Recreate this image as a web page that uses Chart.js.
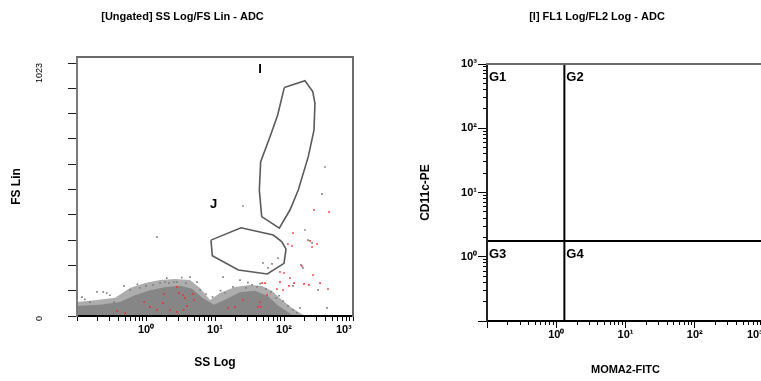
<!DOCTYPE html>
<html>
<head>
<meta charset="utf-8">
<script src="https://cdn.jsdelivr.net/npm/chart.js@4.4.1/dist/chart.umd.min.js"></script>
<style>
  html, body { margin: 0; padding: 0; background: #fff; overflow: hidden; width: 761px; height: 381px; }
  canvas { position: absolute; top: 0; }
  #scatterPlot { left: 0; }
  #quadPlot { left: 400px; }
</style>
</head>
<body>
<canvas id="scatterPlot" width="365" height="381"></canvas>
<canvas id="quadPlot" width="394" height="381"></canvas>
<script>
// log axis decades and their labels
const decades = [0.1, 1, 10, 100, 1000];
const decadeValues = [1, 10, 100, 1000];
const decadeLabels = ['10⁰', '10¹', '10²', '10³'];

// FS Lin axis
const fsTicks = [0, 100, 200, 300, 400, 500, 600, 700, 800, 900, 1000];
const fsLabelValues = [0, 1000];
const fsLabelTexts = ['0', '1023'];

// dense part of the SS/FS cloud (top edge, [SS, FS])
const cloudOuter = [[0.1, 55], [0.182, 62], [0.356, 72], [0.586, 111], [0.968, 130], [1.6, 142], [2.63, 146],
  [4.34, 142], [6.06, 111], [8.47, 63], [11.8, 91], [19.5, 115], [32.1, 123], [48, 119], [67, 99],
  [93.5, 63], [131, 32], [171, 12], [201, 0]];
const cloudCore = [[0.1, 40], [0.215, 44], [0.42, 55], [0.69, 82], [1.14, 102], [1.88, 114], [3.11, 120],
  [4.64, 108], [6.7, 70], [9.7, 44], [15.4, 70], [23, 94], [38, 100], [58.6, 78], [81.9, 42], [114, 16], [135, 0]];

// scattered events
const grayPts = [[25.5, 435], [393, 589], [356, 482], [201, 340], [223, 300], [255, 289], [176, 202], [188, 190],
  [135, 119], [171, 32], [420, 32], [311, 103], [49.6, 210], [67, 206], [58.6, 190], [81.8, 229], [13.1, 154],
  [23, 142], [18.2, 115], [40.6, 115], [0.24, 95], [0.27, 91], [0.154, 55], [0.118, 75], [1.26, 123], [1.6, 130],
  [2.81, 134], [5.48, 134], [4.34, 154], [2.15, 130], [2.55, 134], [0.195, 95], [0.48, 119], [0.344, 55],
  [1.44, 312], [0.59, 103], [0.82, 111], [1.0, 119], [1.88, 134], [3.8, 130], [6.06, 103], [7.4, 87], [14, 91],
  [28.1, 111], [34.4, 123], [54.8, 107], [64.8, 95], [76.6, 71], [96.8, 59], [114, 40], [135, 24], [154, 12],
  [0.13, 66], [0.3, 82], [0.75, 125], [2.0, 150], [3.3, 152], [9.2, 75], [12, 100], [30, 132], [45, 128], [85, 80]];
const redPts = [[272, 419], [449, 411], [135, 328], [114, 285], [131, 277], [255, 273], [301, 285], [238, 297],
  [182, 198], [100, 170], [87.5, 174], [122, 150], [87.5, 134], [140, 130], [195, 127], [230, 123], [333, 130],
  [434, 107], [263, 162], [79, 107], [97, 103], [48, 130], [118, 119], [57, 83], [45, 55], [46, 36], [25.5, 63],
  [19.5, 36], [15.4, 32], [1.82, 87], [1.76, 51], [2.81, 115], [3.0, 91], [3.44, 83], [3.67, 71], [3.93, 40],
  [3.5, 24], [4.8, 87], [4.96, 63], [1.44, 24], [1.14, 36], [2.23, 24], [2.81, 16], [0.5, 12], [0.38, 20],
  [0.94, 55], [53, 130], [42, 36]];

// gates
const gateI = [[101, 903], [201, 930], [261, 887], [281, 841], [272, 735], [225, 630], [161, 498], [122, 419],
  [85.5, 347], [47.5, 393], [43.9, 498], [45.9, 610], [62.7, 709], [81, 795], [101, 903]];
const gateJ = [[8.75, 300], [23.8, 349], [70, 320], [92.6, 294], [107, 264], [100, 208], [57.3, 166],
  [21.8, 182], [9.14, 238], [8.75, 300]];
const gateNames = ['I', 'J'];
const gateNameX = [44.9, 9.57];
const gateNameY = [975, 440];

// FL1/FL2 quadrant
const quadX = 1.31;
const quadY = 1.76;
const quadNames = ['G1', 'G2', 'G3', 'G4'];
const quadNameX = [0.1, quadX, 0.1, quadX];
const quadNameY = [1000, 1000, quadY, quadY];

Chart.defaults.font.family = '"Liberation Sans", Arial, sans-serif';
Chart.defaults.color = '#000';

const toPts = arr => arr.map(([x, y]) => ({ x, y }));

const logTicks = [];
decades.slice(0, -1).forEach(d => {
  for (let m = 1; m < 10; m++) logTicks.push(+(m * d).toPrecision(2));
});
logTicks.push(1000);

const lastPad = '\u00a0'.repeat(6);
function decadeLabel(v) {
  const i = decadeValues.indexOf(v);
  if (i < 0) return '';
  return decadeLabels[i] + (v === 1000 ? lastPad : '');
}

function textMarks(names, xs, ys, dx, dy) {
  return {
    id: 'textMarks',
    afterDatasetsDraw(chart) {
      const { ctx, scales } = chart;
      ctx.save();
      ctx.font = 'bold 13px "Liberation Sans", Arial, sans-serif';
      ctx.fillStyle = '#000';
      ctx.textAlign = dx ? 'left' : 'center';
      ctx.textBaseline = 'middle';
      names.forEach((t, i) => {
        ctx.fillText(t, scales.x.getPixelForValue(xs[i]) + dx, scales.y.getPixelForValue(ys[i]) + dy);
      });
      ctx.restore();
    }
  };
}

const tickFont = { size: 11, weight: 'bold' };
const noLine = 'rgba(0,0,0,0)';
const fixHeight = h => s => { s.height = h; s.paddingLeft = 0; s.paddingRight = 0; };
const fixWidth = w => s => { s.width = w; s.paddingTop = 0; s.paddingBottom = 0; };

// frame pieces as empty axes
const frameTop = (type, min, max, color) => ({
  type, min, max, position: 'top', afterFit: fixHeight(0),
  grid: { display: false }, ticks: { display: false },
  border: { display: true, color, width: 2, z: 1 }
});
const frameRight = (width, color) => ({
  type: 'linear', min: 0, max: 1, position: 'right', afterFit: fixWidth(width),
  grid: { display: false }, ticks: { display: false },
  border: { display: !!color, color: color || noLine, width: 2, z: 1 }
});

new Chart(document.getElementById('scatterPlot'), {
  type: 'scatter',
  data: {
    datasets: [
      { type: 'line', data: toPts(gateI), borderColor: '#5a5a5a', borderWidth: 1.6, pointRadius: 0, fill: false, tension: 0 },
      { type: 'line', data: toPts(gateJ), borderColor: '#5a5a5a', borderWidth: 1.6, pointRadius: 0, fill: false, tension: 0 },
      { data: toPts(redPts), backgroundColor: '#ff2020', pointStyle: 'rect', pointRadius: 1.1, borderWidth: 0 },
      { data: toPts(grayPts), backgroundColor: '#808080', pointStyle: 'rect', pointRadius: 1.2, borderWidth: 0 },
      { type: 'line', data: toPts(cloudCore), backgroundColor: '#868686', borderColor: noLine, borderWidth: 0, pointRadius: 0, fill: 'origin', tension: 0 },
      { type: 'line', data: toPts(cloudOuter), backgroundColor: '#adadad', borderColor: noLine, borderWidth: 0, pointRadius: 0, fill: 'origin', tension: 0 }
    ]
  },
  options: {
    responsive: false,
    animation: false,
    events: [],
    plugins: {
      legend: { display: false },
      tooltip: { enabled: false },
      title: {
        display: true, text: '[Ungated] SS Log/FS Lin - ADC',
        font: { size: 11, weight: 'bold' }, color: '#000', padding: { top: 10, bottom: 33.8 }
      }
    },
    scales: {
      x: {
        type: 'logarithmic', min: 0.1, max: 1000, position: 'bottom',
        afterBuildTicks: s => { s.ticks = logTicks.map(v => ({ value: v })); },
        afterFit: fixHeight(65),
        grid: { drawOnChartArea: false, drawTicks: true, tickLength: 5, color: '#000' },
        border: { display: true, color: '#000', width: 2, z: 1 },
        ticks: { autoSkip: false, minRotation: 0, maxRotation: 0, padding: 2, font: tickFont, color: '#000', callback: decadeLabel },
        title: { display: true, text: 'SS Log', font: { size: 12, weight: 'bold' }, color: '#000', padding: { top: 0, bottom: 10.8 } }
      },
      y: {
        type: 'linear', min: 0, max: 1024, position: 'left',
        afterBuildTicks: s => { s.ticks = fsTicks.map(v => ({ value: v })); },
        afterFit: fixWidth(77),
        grid: { drawOnChartArea: false, drawTicks: true, tickLength: 9, color: '#222' },
        border: { display: true, color: '#7a7a7a', width: 2, z: 1 },
        ticks: {
          autoSkip: false, minRotation: 90, maxRotation: 90, padding: 28, font: { size: 9 }, color: '#000',
          callback: v => { const i = fsLabelValues.indexOf(v); return i < 0 ? '' : fsLabelTexts[i]; }
        },
        title: { display: true, text: 'FS Lin', font: { size: 12, weight: 'bold' }, color: '#000', padding: { top: 9.8, bottom: 0 } }
      },
      xT: frameTop('logarithmic', 0.1, 1000, '#6a6a6a'),
      yR: frameRight(12, '#6a6a6a')
    }
  },
  plugins: [textMarks(gateNames, gateNameX, gateNameY, 0, 0)]
});

new Chart(document.getElementById('quadPlot'), {
  type: 'scatter',
  data: {
    datasets: [
      { type: 'line', data: [{ x: quadX, y: 0.1 }, { x: quadX, y: 1000 }], borderColor: '#000', borderWidth: 2, pointRadius: 0, fill: false },
      { type: 'line', data: [{ x: 0.1, y: quadY }, { x: 1000, y: quadY }], borderColor: '#000', borderWidth: 2, pointRadius: 0, fill: false }
    ]
  },
  options: {
    responsive: false,
    animation: false,
    events: [],
    plugins: {
      legend: { display: false },
      tooltip: { enabled: false },
      title: {
        display: true, text: '[I] FL1 Log/FL2 Log - ADC',
        font: { size: 11, weight: 'bold' }, color: '#000', padding: { top: 10, bottom: 40.8 }
      }
    },
    scales: {
      x: {
        type: 'logarithmic', min: 0.1, max: 1000, position: 'bottom', weight: 1,
        afterBuildTicks: s => { s.ticks = logTicks.map(v => ({ value: v })); },
        afterFit: fixHeight(60),
        grid: { drawOnChartArea: false, drawTicks: true, tickLength: 4, color: '#000' },
        border: { display: true, color: '#000', width: 2, z: 1 },
        ticks: { autoSkip: false, minRotation: 0, maxRotation: 0, padding: 3, font: tickFont, color: '#000', callback: decadeLabel },
        title: { display: true, text: 'MOMA2-FITC', font: { size: 11, weight: 'bold' }, color: '#000', padding: { top: 0, bottom: 4.4 } }
      },
      xM: {
        type: 'logarithmic', min: 0.1, max: 1000, position: 'bottom', weight: 0,
        afterBuildTicks: s => { s.ticks = decades.map(v => ({ value: v })); },
        afterFit: fixHeight(0),
        grid: { drawOnChartArea: false, drawTicks: true, tickLength: 7, color: '#000' },
        border: { display: false }, ticks: { display: false }
      },
      y: {
        type: 'logarithmic', min: 0.1, max: 1000, position: 'left', weight: 1,
        afterBuildTicks: s => { s.ticks = logTicks.map(v => ({ value: v })); },
        afterFit: fixWidth(87),
        grid: { drawOnChartArea: false, drawTicks: true, tickLength: 4, color: '#000' },
        border: { display: true, color: '#222', width: 2, z: 1 },
        ticks: {
          autoSkip: false, padding: 6, font: tickFont, color: '#000',
          callback: v => { const i = decadeValues.indexOf(v); return i < 0 ? '' : decadeLabels[i]; }
        },
        title: { display: true, text: 'CD11c-PE', font: { size: 12, weight: 'bold' }, color: '#000', padding: { top: 18.8, bottom: 0 } }
      },
      yM: {
        type: 'logarithmic', min: 0.1, max: 1000, position: 'left', weight: 0,
        afterBuildTicks: s => { s.ticks = decades.map(v => ({ value: v })); },
        afterFit: fixWidth(0),
        grid: { drawOnChartArea: false, drawTicks: true, tickLength: 9, color: '#000' },
        border: { display: false }, ticks: { display: false }
      },
      xT: frameTop('logarithmic', 0.1, 1000, '#6a6a6a'),
      yR: frameRight(30, null)
    }
  },
  plugins: [textMarks(quadNames, quadNameX, quadNameY, 2, 13)]
});
</script>
</body>
</html>
